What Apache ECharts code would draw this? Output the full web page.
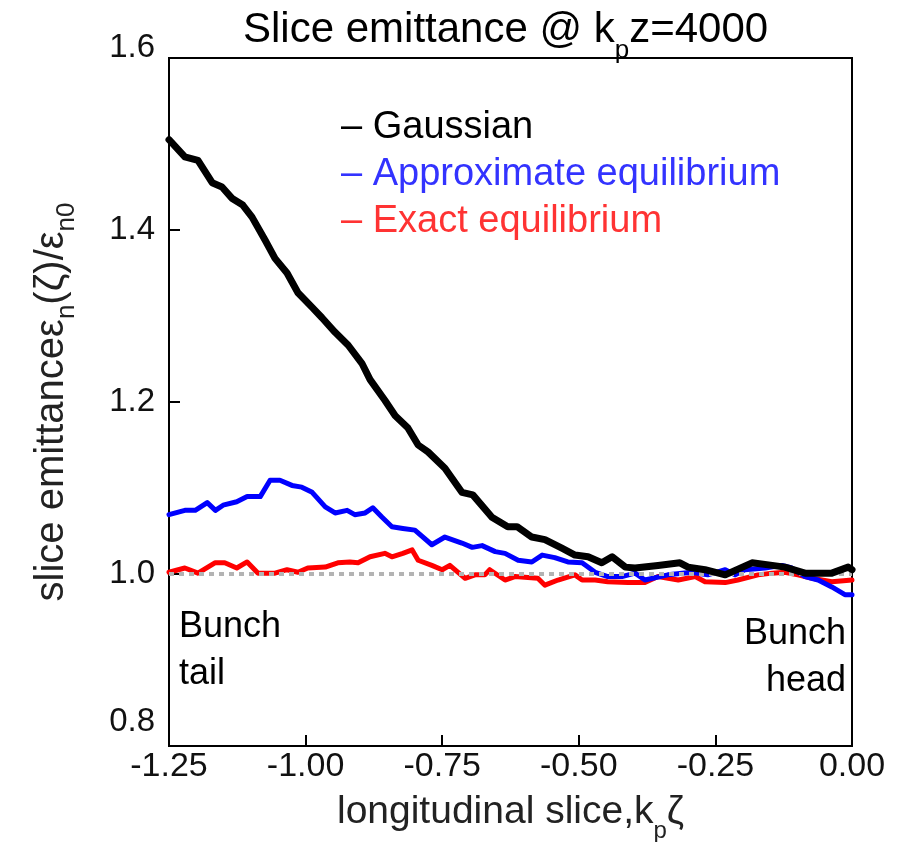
<!DOCTYPE html>
<html>
<head>
<meta charset="utf-8">
<script src="https://cdn.jsdelivr.net/npm/echarts@6/dist/echarts.min.js"></script>
<style>
html,body{margin:0;padding:0;background:#fff;}
#chart{width:907px;height:842px;}
</style>
</head>
<body>
<div id="chart"></div>
<script>
// ---- data ----
const seriesNames = ['Gaussian', 'Approximate equilibrium', 'Exact equilibrium'];

const gaussX = [-1.25,-1.221,-1.197,-1.171,-1.153,-1.135,-1.115,-1.098,-1.074,-1.056,-1.034,-1.014,-0.988,-0.970,-0.946,-0.922,-0.897,-0.882,-0.855,-0.836,-0.813,-0.794,-0.776,-0.745,-0.714,-0.694,-0.659,-0.630,-0.613,-0.586,-0.562,-0.531,-0.507,-0.483,-0.458,-0.439,-0.415,-0.397,-0.355,-0.315,-0.300,-0.269,-0.232,-0.183,-0.146,-0.123,-0.086,-0.037,-0.007,0.0];
const gaussY = [1.505,1.485,1.481,1.455,1.450,1.437,1.429,1.415,1.388,1.367,1.350,1.327,1.310,1.298,1.281,1.266,1.245,1.226,1.202,1.184,1.170,1.150,1.142,1.123,1.095,1.092,1.066,1.055,1.055,1.043,1.040,1.030,1.022,1.020,1.013,1.020,1.008,1.007,1.010,1.013,1.008,1.005,0.999,1.013,1.010,1.008,1.001,1.001,1.008,1.005];

const approxX = [-1.25,-1.221,-1.202,-1.180,-1.165,-1.151,-1.126,-1.107,-1.083,-1.065,-1.047,-1.025,-1.007,-0.988,-0.964,-0.946,-0.924,-0.910,-0.891,-0.877,-0.860,-0.842,-0.822,-0.800,-0.769,-0.745,-0.714,-0.695,-0.677,-0.653,-0.635,-0.611,-0.586,-0.567,-0.544,-0.520,-0.494,-0.470,-0.447,-0.421,-0.397,-0.379,-0.337,-0.293,-0.264,-0.232,-0.214,-0.196,-0.159,-0.128,-0.110,-0.086,-0.062,-0.037,-0.013,0.0];
const approxY = [1.069,1.074,1.074,1.083,1.074,1.080,1.084,1.090,1.090,1.109,1.109,1.103,1.101,1.095,1.078,1.071,1.074,1.069,1.071,1.077,1.066,1.055,1.053,1.051,1.034,1.043,1.036,1.031,1.033,1.026,1.024,1.016,1.014,1.022,1.019,1.014,1.013,1.002,0.997,0.997,1.001,0.993,0.999,1.002,0.999,1.005,0.999,1.005,1.007,1.010,1.007,0.997,0.993,0.985,0.976,0.976];

const exactX = [-1.25,-1.221,-1.197,-1.166,-1.148,-1.126,-1.107,-1.087,-1.056,-1.034,-1.014,-0.996,-0.964,-0.941,-0.919,-0.904,-0.882,-0.855,-0.842,-0.822,-0.805,-0.794,-0.769,-0.750,-0.736,-0.708,-0.690,-0.672,-0.663,-0.635,-0.617,-0.575,-0.562,-0.538,-0.507,-0.494,-0.470,-0.447,-0.410,-0.379,-0.355,-0.318,-0.287,-0.269,-0.232,-0.209,-0.172,-0.146,-0.123,-0.099,-0.073,-0.037,0.0];
const exactY = [1.002,1.007,1.001,1.013,1.013,1.007,1.014,1.001,1.001,1.005,1.002,1.007,1.008,1.013,1.014,1.013,1.020,1.024,1.020,1.024,1.028,1.016,1.010,1.005,1.010,0.995,0.999,0.999,1.005,0.993,0.997,0.995,0.987,0.993,0.999,0.993,0.993,0.991,0.990,0.990,0.997,0.993,0.997,0.991,0.990,0.993,0.999,1.001,1.002,0.999,0.995,0.991,0.993];

const referenceLevel = 1.0;
const xRange = [-1.25, 0.0];
const yRange = [0.8, 1.6];
const xTickStep = 0.25;
const yTickStep = 0.2;

// ---- build ----
function zip(xs, ys) { return xs.map((x, i) => [x, ys[i]]); }

const FONT = 'Liberation Sans, Arial, sans-serif';
const chart = echarts.init(document.getElementById('chart'), null, {renderer: 'canvas'});

const option = {
  backgroundColor: '#ffffff',
  animation: false,
  title: {
    text: 'Slice emittance @ k{sub|p}z=4000',
    left: 238,
    top: 2,
    textStyle: {
      fontFamily: FONT, fontSize: 42, fontWeight: 'normal', color: '#000',
      lineHeight: 46,
      rich: { sub: { fontFamily: FONT, fontSize: 26, color: '#000', padding: [41, 0, 0, 0] } }
    }
  },
  grid: {
    left: 169, right: 55, top: 58, bottom: 96,
    outerBoundsMode: 'none', containLabel: false,
    show: true, borderColor: '#000', borderWidth: 2, backgroundColor: 'transparent'
  },
  legend: {
    data: [
      {name: seriesNames[0], textStyle: {color: '#000000'}},
      {name: seriesNames[1], textStyle: {color: '#3333ff'}},
      {name: seriesNames[2], textStyle: {color: '#ff3333'}}
    ],
    orient: 'vertical',
    left: 331, top: 99,
    icon: 'none',
    itemWidth: 0, itemHeight: 0,
    itemGap: 0,
    selectedMode: false,
    formatter: name => '\u2013 ' + name,
    textStyle: { fontFamily: FONT, fontSize: 38, lineHeight: 47 }
  },
  xAxis: {
    type: 'value',
    min: xRange[0], max: xRange[1], interval: xTickStep,
    name: 'longitudinal slice,k{sub|p}\u03b6',
    nameLocation: 'middle', nameGap: 31,
    nameTextStyle: {
      fontFamily: FONT, fontSize: 39, color: '#222', lineHeight: 46,
      rich: { sub: { fontFamily: FONT, fontSize: 24, color: '#222', padding: [38, 0, 0, 0] } }
    },
    axisLine: { show: true, onZero: false, lineStyle: { color: '#000', width: 2 } },
    axisTick: { show: true, inside: true, length: 11, lineStyle: { color: '#000', width: 2 } },
    splitLine: { show: false },
    axisLabel: {
      fontFamily: FONT, fontSize: 34, color: '#111', margin: 4,
      formatter: v => v.toFixed(2)
    }
  },
  yAxis: {
    type: 'value',
    min: yRange[0], max: yRange[1], interval: yTickStep,
    name: 'slice emittance\u03b5{sub|n}(\u03b6)/\u03b5{sub|n0}',
    nameLocation: 'middle', nameGap: 94,
    nameTextStyle: {
      fontFamily: FONT, fontSize: 40, color: '#222', lineHeight: 46,
      rich: { sub: { fontFamily: FONT, fontSize: 26, color: '#222', padding: [30, 0, 0, 0] } }
    },
    axisLine: { show: true, onZero: false, lineStyle: { color: '#000', width: 2 } },
    axisTick: { show: true, inside: true, length: 11, lineStyle: { color: '#000', width: 2 } },
    splitLine: { show: false },
    axisLabel: {
      fontFamily: FONT, fontSize: 33, color: '#111', margin: 14,
      formatter: v => {
        const s = v.toFixed(1);
        if (Math.abs(v - yRange[1]) < 1e-9) return '{top|' + s + '}';
        if (Math.abs(v - yRange[0]) < 1e-9) return '{bot|' + s + '}';
        return s;
      },
      rich: {
        top: { fontFamily: FONT, fontSize: 33, color: '#111', padding: [0, 0, 20, 0] },
        bot: { fontFamily: FONT, fontSize: 33, color: '#111', padding: [0, 0, 48, 0] }
      }
    }
  },
  graphic: [
    { type: 'text', x: 179, y: 604, z: 10,
      style: { text: 'Bunch\ntail', font: '36px ' + FONT, fill: '#000', lineHeight: 47,
               align: 'left', verticalAlign: 'top' } },
    { type: 'text', x: 846, y: 611, z: 10,
      style: { text: 'Bunch\nhead', font: '36px ' + FONT, fill: '#000', lineHeight: 47,
               align: 'right', verticalAlign: 'top' } }
  ],
  series: [
    {
      name: 'unity', type: 'line', data: [], z: 1, silent: true,
      markLine: {
        silent: true, symbol: 'none', label: { show: false },
        lineStyle: { color: '#b3b3b3', width: 4, type: [5, 5] },
        data: [{ yAxis: referenceLevel }]
      }
    },
    {
      name: seriesNames[2], type: 'line', data: zip(exactX, exactY), z: 3,
      showSymbol: false, smooth: false,
      lineStyle: { color: '#ff0000', width: 5, join: 'round', cap: 'round' },
      itemStyle: { color: '#ff3333' }
    },
    {
      name: seriesNames[1], type: 'line', data: zip(approxX, approxY), z: 4,
      showSymbol: false, smooth: false,
      lineStyle: { color: '#0000ff', width: 5, join: 'round', cap: 'round' },
      itemStyle: { color: '#3333ff' }
    },
    {
      name: seriesNames[0], type: 'line', data: zip(gaussX, gaussY), z: 5,
      showSymbol: false, smooth: false,
      lineStyle: { color: '#000000', width: 7, join: 'round', cap: 'round' },
      itemStyle: { color: '#000000' }
    }
  ]
};
chart.setOption(option);
</script>
</body>
</html>
